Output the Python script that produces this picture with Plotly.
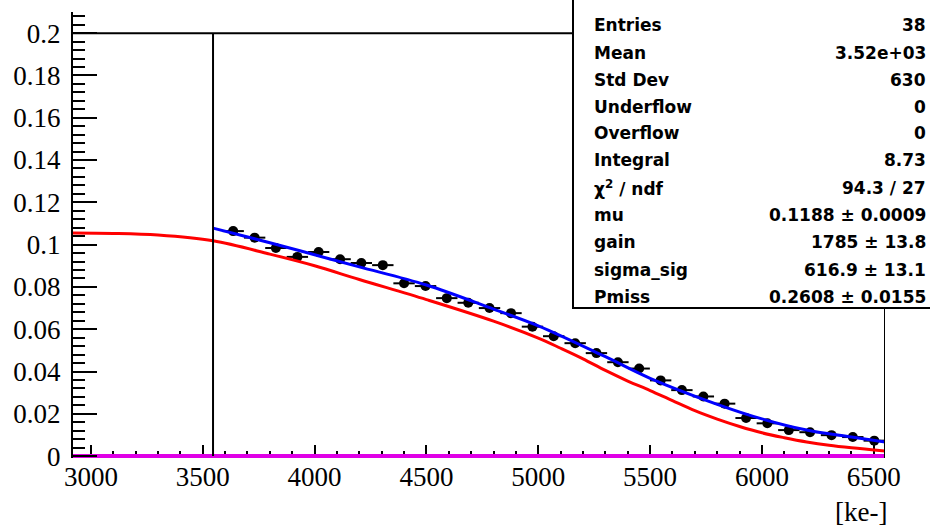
import plotly.graph_objects as go

# ---------------- data ----------------
bin_centers = [3636, 3732, 3827, 3923, 4018, 4114, 4209, 4305, 4400, 4496,
               4591, 4687, 4782, 4878, 4974, 5069, 5165, 5260, 5356, 5451,
               5547, 5642, 5738, 5833, 5929, 6024, 6120, 6215, 6311, 6406, 6502]
bin_values = [0.1064, 0.1033, 0.0984, 0.0942, 0.0965, 0.0931, 0.0913, 0.0903, 0.0817, 0.0804,
              0.0747, 0.0725, 0.0700, 0.0676, 0.0612, 0.0567, 0.0534, 0.0487, 0.0444, 0.0414,
              0.0358, 0.0312, 0.0282, 0.0248, 0.0180, 0.0155, 0.0123, 0.0113, 0.0099, 0.0090, 0.0073]
bin_half_width = [47.8] * len(bin_centers)
bin_errors = [0.0015] * len(bin_centers)

fit_x = [3546, 3800, 4000, 4200, 4500, 4800, 5000, 5300, 5500, 5800, 6000, 6200, 6400, 6550]
fit_y = [0.1078, 0.1009, 0.0952, 0.0895, 0.0809, 0.0695, 0.0616, 0.0470, 0.0368, 0.0245,
         0.0176, 0.0123, 0.0090, 0.0067]

sig_x = [2920, 3100, 3300, 3546, 3800, 4000, 4200, 4500, 4800, 5000, 5100, 5200, 5300,
         5400, 5500, 5600, 5700, 5800, 5900, 6000, 6100, 6200, 6300, 6400, 6550]
sig_y = [0.1055, 0.1053, 0.1045, 0.1018, 0.0955, 0.0900, 0.0835, 0.0740, 0.0638, 0.0558,
         0.0510, 0.0460, 0.0405, 0.0355, 0.0310, 0.0262, 0.0215, 0.0175, 0.0140, 0.0110,
         0.0087, 0.0067, 0.0051, 0.0039, 0.0024]

zero_x = [2920, 6550]
zero_y = [0.0, 0.0]

x_range = [2920, 6550]
y_range = [-0.0009, 0.21]
fit_start = 3546
frame_top = 0.2

x_tickvals = [3000, 3500, 4000, 4500, 5000, 5500, 6000, 6500]
x_ticktext = ["3000", "3500", "4000", "4500", "5000", "5500", "6000", "6500"]
y_tickvals = [0, 0.02, 0.04, 0.06, 0.08, 0.1, 0.12, 0.14, 0.16, 0.18, 0.2]
y_ticktext = ["0", "0.02", "0.04", "0.06", "0.08", "0.1", "0.12", "0.14", "0.16", "0.18", "0.2"]

stat_names = ["Entries", "Mean", "Std Dev", "Underflow", "Overflow", "Integral",
              "χ<sup>2</sup> / ndf", "mu", "gain", "sigma_sig", "Pmiss"]
stat_values = ["38", "3.52e+03", "630", "0", "0", "8.73", "94.3 / 27",
               "0.1188 ± 0.0009", "1785 ± 13.8", "616.9 ± 13.1", "0.2608 ± 0.0155"]

x_unit = "[ke-]"

# ---------------- layout geometry ----------------
W, H = 930, 530
L, R, T, B = 73, 45, 12, 72
PW, PH = W - L - R, H - T - B


def px_x(px):
    return (px - L) / PW


def px_y(py):
    return (H - B - py) / PH


fig = go.Figure()

fig.add_trace(go.Scatter(x=zero_x, y=zero_y, mode="lines",
                         line=dict(color="#e000e6", width=4), hoverinfo="skip"))

fig.add_trace(go.Scatter(
    x=bin_centers, y=bin_values, mode="markers",
    marker=dict(color="black", size=10),
    error_x=dict(type="data", array=bin_half_width, color="black", thickness=2, width=0),
    error_y=dict(type="data", array=bin_errors, color="black", thickness=2, width=0),
))

fig.add_trace(go.Scatter(x=sig_x, y=sig_y, mode="lines", line=dict(color="#ff0000", width=3, shape="spline")))
fig.add_trace(go.Scatter(x=fit_x, y=fit_y, mode="lines", line=dict(color="#0000ff", width=3, shape="spline")))

shapes = [
    dict(type="line", xref="x", yref="y", x0=x_range[0], x1=x_range[1], y0=frame_top, y1=frame_top,
         line=dict(color="black", width=2), layer="above"),
    dict(type="line", xref="x", yref="y", x0=fit_start, x1=fit_start, y0=0, y1=frame_top,
         line=dict(color="black", width=2), layer="above"),
    dict(type="line", xref="x", yref="y", x0=x_range[1], x1=x_range[1], y0=y_range[0], y1=frame_top,
         line=dict(color="black", width=2), layer="above"),
    # stats box
    dict(type="rect", xref="paper", yref="paper",
         x0=px_x(573), x1=px_x(940), y0=px_y(308), y1=px_y(-10),
         fillcolor="white", line=dict(color="black", width=2), layer="above"),
]

annotations = []
row_y = [25, 53, 80, 107, 133, 160, 188, 215, 242, 270, 297]
stat_font = dict(family="DejaVu Sans", size=17, color="black")
for name, val, py in zip(stat_names, stat_values, row_y):
    annotations.append(dict(xref="paper", yref="paper", x=px_x(592), y=px_y(py),
                            xanchor="left", yanchor="middle", showarrow=False,
                            text="<b>%s</b>" % name, font=stat_font))
    annotations.append(dict(xref="paper", yref="paper", x=px_x(928), y=px_y(py),
                            xanchor="right", yanchor="middle", showarrow=False,
                            text="<b>%s</b>" % val, font=stat_font))

annotations.append(dict(xref="paper", yref="paper", x=px_x(888), y=px_y(512),
                        xanchor="right", yanchor="middle", showarrow=False, borderpad=0,
                        text=x_unit, font=dict(family="Liberation Serif", size=27, color="black")))

tick_font = dict(family="Liberation Serif", size=27, color="black")

fig.update_layout(
    width=W, height=H,
    margin=dict(l=L, r=R, t=T, b=B, pad=0),
    paper_bgcolor="white", plot_bgcolor="white",
    showlegend=False,
    shapes=shapes, annotations=annotations,
    xaxis=dict(range=x_range, showgrid=False, zeroline=False,
               showline=False, layer="below traces",
               ticks="inside", ticklen=13, tickwidth=2, tickcolor="black",
               tickvals=x_tickvals, ticktext=x_ticktext, tickfont=tick_font,
               minor=dict(ticks="inside", ticklen=7, tickwidth=2, tickcolor="black", dtick=100, tick0=3000,
                          showgrid=False)),
    yaxis=dict(range=y_range, showgrid=False, zeroline=False,
               showline=True, linecolor="black", linewidth=2,
               ticks="inside", ticklen=24, tickwidth=2, tickcolor="black",
               ticklabelstandoff=5,
               tickvals=y_tickvals, ticktext=y_ticktext, tickfont=tick_font,
               minor=dict(ticks="inside", ticklen=12, tickwidth=2, tickcolor="black", dtick=0.004, tick0=0,
                          showgrid=False)),
)

fig.write_html("out.html")
